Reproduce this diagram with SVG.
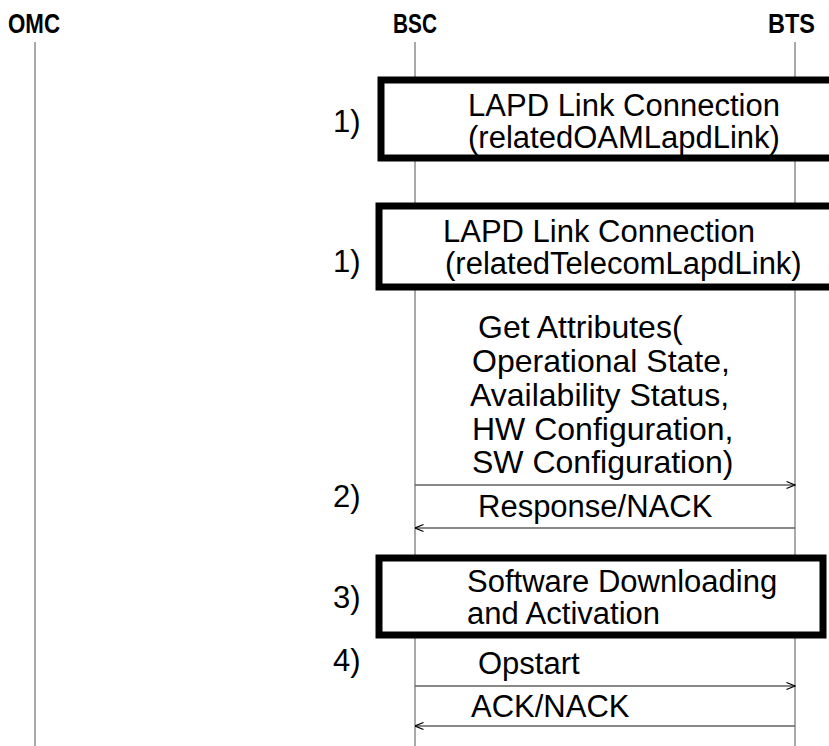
<svg xmlns="http://www.w3.org/2000/svg" width="829" height="746" viewBox="0 0 829 746">
<defs>
<style>
.hdr{font-family:"Liberation Sans",Arial,sans-serif;font-weight:bold;font-size:28px;fill:#000}
.t{font-family:"Liberation Sans",Arial,sans-serif;font-size:31px;fill:#000}
.g{font-family:"Liberation Sans",Arial,sans-serif;font-size:32px;fill:#000}
.life{stroke:#707070;stroke-width:1.2;fill:none}
.box{fill:#fff;stroke:#000;stroke-width:7}
.msg{stroke:#606060;stroke-width:1.3;fill:none}
</style>
<marker id="ah" viewBox="0 0 10 10" refX="9.5" refY="5" markerWidth="10" markerHeight="10" markerUnits="userSpaceOnUse" orient="auto">
<path d="M1,1.5 L9.5,5 L1,8.5" fill="none" stroke="#000" stroke-width="1.2"/>
</marker>
</defs>
<rect width="829" height="746" fill="#fff"/>
<g id="lifelines">
<g id="omc"><text class="hdr" x="8" y="33" textLength="52" lengthAdjust="spacingAndGlyphs">OMC</text><line class="life" x1="35" y1="42" x2="35" y2="746"/></g>
<g id="bsc"><text class="hdr" x="393" y="33" textLength="44" lengthAdjust="spacingAndGlyphs">BSC</text><line class="life" x1="415" y1="42" x2="415" y2="746"/></g>
<g id="bts"><text class="hdr" x="768" y="33" textLength="47" lengthAdjust="spacingAndGlyphs">BTS</text><line class="life" x1="795" y1="42" x2="795" y2="746"/></g>
</g>
<g id="box1">
<rect class="box" x="381" y="80" width="460" height="78"/>
<text class="t" x="624" y="116" text-anchor="middle">LAPD Link Connection</text>
<text class="t" x="624" y="148" text-anchor="middle">(relatedOAMLapdLink)</text>
<text class="t" x="333" y="132">1)</text>
</g>
<g id="box2">
<rect class="box" x="379" y="206" width="460" height="81"/>
<text class="t" x="443" y="242">LAPD Link Connection</text>
<text class="t" x="445" y="274">(relatedTelecomLapdLink)</text>
<text class="t" x="333" y="272">1)</text>
</g>
<g id="box3">
<rect class="box" x="379" y="558" width="444" height="77"/>
<text class="t" x="467" y="592">Software Downloading</text>
<text class="t" x="467" y="624">and Activation</text>
<text class="t" x="333" y="608">3)</text>
</g>
<g id="connectors">
<line class="msg" x1="415" y1="485" x2="795" y2="485" marker-end="url(#ah)"/>
<line class="msg" x1="795" y1="528" x2="415" y2="528" marker-end="url(#ah)"/>
<line class="msg" x1="415" y1="686" x2="795" y2="686" marker-end="url(#ah)"/>
<line class="msg" x1="795" y1="726" x2="415" y2="726" marker-end="url(#ah)"/>
</g>
<g id="labels">
<text class="g" x="478" y="338">Get Attributes(</text>
<text class="g" x="472" y="372">Operational State,</text>
<text class="g" x="470" y="406">Availability Status,</text>
<text class="g" x="472" y="440">HW Configuration,</text>
<text class="g" x="472" y="473">SW Configuration)</text>
<text class="t" x="478" y="517">Response/NACK</text>
<text class="t" x="333" y="507">2)</text>
<text class="t" x="478" y="674">Opstart</text>
<text class="t" x="333" y="671">4)</text>
<text class="t" x="471" y="717">ACK/NACK</text>
</g>
</svg>
